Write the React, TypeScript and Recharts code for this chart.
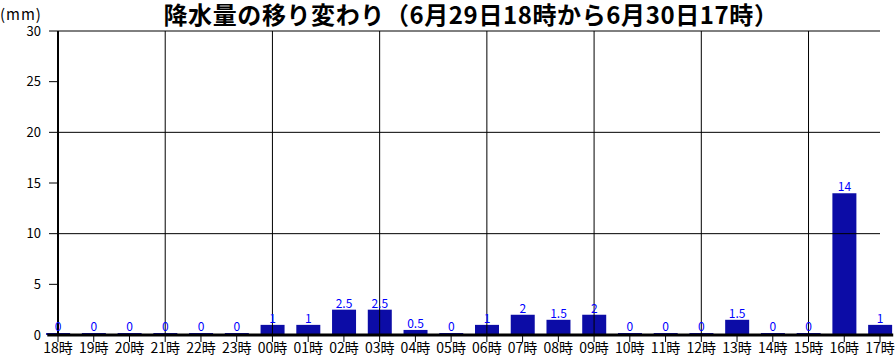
import React from "react";
import {
  BarChart,
  Bar,
  XAxis,
  YAxis,
  ReferenceLine,
  LabelList,
} from "recharts";

const hours = [
  "18時", "19時", "20時", "21時", "22時", "23時",
  "00時", "01時", "02時", "03時", "04時", "05時",
  "06時", "07時", "08時", "09時", "10時", "11時",
  "12時", "13時", "14時", "15時", "16時", "17時",
];
const rain = [0, 0, 0, 0, 0, 0, 1, 1, 2.5, 2.5, 0.5, 0, 1, 2, 1.5, 2, 0, 0, 0, 1.5, 0, 0, 14, 1];
const yTicks = [0, 5, 10, 15, 20, 25, 30];
const hGrid = [10, 20, 30];
const vGrid = [3, 6, 9, 12, 15, 18, 21];

const data = hours.map((h, i) => ({ idx: i, hour: h, rain: rain[i] }));

const FONT = '"Noto Sans CJK JP", "Noto Sans", sans-serif';

const App = () => {
  return (
    <div
      style={{
        position: "absolute",
        left: 0,
        top: 0,
        width: 895,
        height: 359,
        background: "#fff",
        fontFamily: FONT,
      }}
    >
      <BarChart
        width={895}
        height={359}
        data={data}
        margin={{ top: 31, right: 15, bottom: 0, left: 0 }}
        style={{ position: "absolute", left: 0, top: 0 }}
      >
        {hGrid.map((v) => (
          <ReferenceLine key={"h" + v} y={v} stroke="#000" strokeWidth={1} />
        ))}
        {vGrid.map((v) => (
          <ReferenceLine key={"v" + v} x={v} stroke="#000" strokeWidth={1} />
        ))}
        <XAxis
          dataKey="idx"
          type="number"
          domain={[0, 23]}
          ticks={hours.map((_, i) => i)}
          interval={0}
          tickFormatter={(v: number) => hours[v]}
          height={24}
          axisLine={false}
          tickLine={{ stroke: "#000" }}
          tickSize={7}
          tickMargin={1}
          tick={{ fill: "#000", fontSize: 14, fontFamily: FONT }}
        />
        <YAxis
          domain={[0, 30]}
          ticks={yTicks}
          interval={0}
          width={58}
          axisLine={{ stroke: "#000", strokeWidth: 2 }}
          tickLine={{ stroke: "#000" }}
          tickSize={9}
          tickMargin={8}
          tick={{ fill: "#000", fontSize: 13, fontFamily: FONT }}
        />
        <ReferenceLine
          segment={[
            { x: -0.3, y: 0 },
            { x: 23.37, y: 0 },
          ]}
          ifOverflow="visible"
          stroke="#000"
          strokeWidth={3}
        />
        <Bar
          dataKey="rain"
          fill="#0c0ca6"
          barSize={24}
          minPointSize={2}
          isAnimationActive={false}
        >
          <LabelList
            dataKey="rain"
            position="top"
            offset={2}
            fill="#0000ff"
            fontSize={12}
            fontFamily={FONT}
          />
        </Bar>
      </BarChart>
      <div
        style={{
          position: "absolute",
          left: 471,
          top: 1,
          transform: "translateX(-50%)",
          fontSize: 24,
          lineHeight: "26px",
          letterSpacing: 0.6,
          fontWeight: 700,
          whiteSpace: "nowrap",
          color: "#000",
        }}
      >
        降水量の移り変わり（6月29日18時から6月30日17時）
      </div>
      <div
        style={{
          position: "absolute",
          left: 0,
          top: 6,
          fontSize: 15,
          lineHeight: "16px",
          letterSpacing: 1,
          color: "#000",
        }}
      >
        (mm)
      </div>
    </div>
  );
};

export default App;
